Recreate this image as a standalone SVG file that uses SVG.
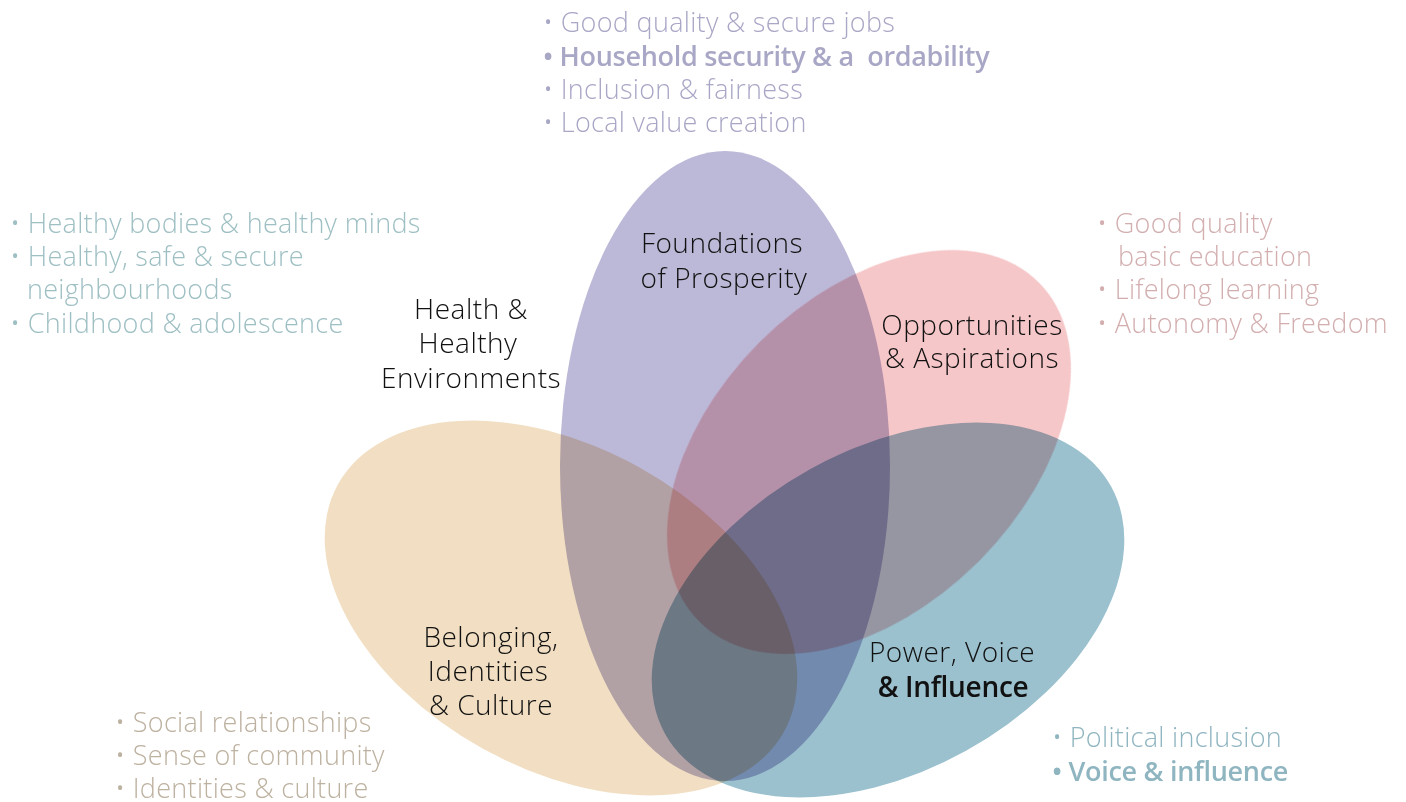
<svg xmlns="http://www.w3.org/2000/svg" width="1406" height="802" viewBox="0 0 1406 802">
<style>
.node{mix-blend-mode:multiply}
text{font-variant-ligatures:none}
.lbl{font-family:"Open Sans","Liberation Sans",sans-serif;font-weight:300;font-size:28px;letter-spacing:0.5px;fill:#111;text-anchor:middle}
.lblb{font-weight:600;letter-spacing:-0.3px}
.bul{font-family:"Open Sans","Liberation Sans",sans-serif;font-weight:300;font-size:27px;letter-spacing:0.3px}
.bb{font-weight:600;letter-spacing:-0.3px}
.top{fill:#A9A7C6}
.lft{fill:#9EBFC3}
.rgt{fill:#D3AEAF}
.bl{fill:#BDB1A0}
.br{fill:#8FB5C0}
</style>
<rect width="1406" height="802" fill="#fff"/>
<g id="connectors"></g>
<g id="foundations" class="node">
<ellipse cx="725" cy="466" rx="165" ry="315" fill="#BCB8D7"/>
<text class="lbl" x="722" y="253">Foundations</text>
<text class="lbl" x="724" y="288">of Prosperity</text>
<text class="bul top" x="543" y="32">• Good quality &amp; secure jobs</text>
<text class="bul top bb" x="543" y="66" style="white-space:pre">• Household security &amp; a  ordability</text>
<text class="bul top" x="543" y="99">• Inclusion &amp; fairness</text>
<text class="bul top" x="543" y="132">• Local value creation</text>
</g>
<g id="opportunities" class="node">
<ellipse cx="869" cy="452" rx="240" ry="155" transform="rotate(-45 869 452)" fill="#F6C7C9"/>
<text class="lbl" x="972" y="335">Opportunities</text>
<text class="lbl" x="972" y="368">&amp; Aspirations</text>
<text class="bul rgt" x="1097" y="233">• Good quality</text>
<text class="bul rgt" x="1118" y="266">basic education</text>
<text class="bul rgt" x="1097" y="299">• Lifelong learning</text>
<text class="bul rgt" x="1097" y="333">• Autonomy &amp; Freedom</text>
</g>
<g id="power" class="node">
<ellipse cx="888" cy="610" rx="255" ry="161" transform="rotate(-29 888 610)" fill="#9BC0CE"/>
<text class="lbl" x="952" y="662">Power, Voice</text>
<text class="lbl lblb" x="953" y="697">&amp; Influence</text>
<text class="bul br" x="1052" y="747">• Political inclusion</text>
<text class="bul br bb" x="1052" y="781">• Voice &amp; influence</text>
</g>
<g id="belonging" class="node">
<ellipse cx="561" cy="608" rx="255" ry="161" transform="rotate(29 561 608)" fill="#F2DFC3"/>
<text class="lbl" x="491" y="647">Belonging,</text>
<text class="lbl" x="488" y="681">Identities</text>
<text class="lbl" x="491" y="715">&amp; Culture</text>
<text class="bul bl" x="115" y="732">• Social relationships</text>
<text class="bul bl" x="115" y="765">• Sense of community</text>
<text class="bul bl" x="115" y="798">• Identities &amp; culture</text>
</g>
<g id="health" class="node">
<text class="lbl" x="471" y="319">Health &amp;</text>
<text class="lbl" x="468" y="353">Healthy</text>
<text class="lbl" x="471" y="388">Environments</text>
<text class="bul lft" x="10" y="233">• Healthy bodies &amp; healthy minds</text>
<text class="bul lft" x="10" y="266">• Healthy, safe &amp; secure</text>
<text class="bul lft" x="27" y="299">neighbourhoods</text>
<text class="bul lft" x="10" y="333">• Childhood &amp; adolescence</text>
</g>
</svg>
